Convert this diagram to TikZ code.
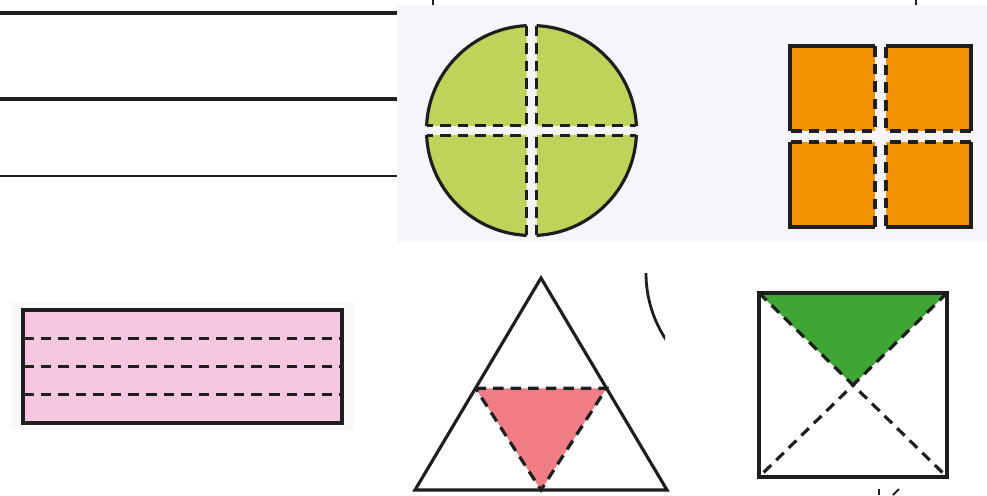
\documentclass[tikz,border=0pt]{standalone}
\usepackage{xcolor}
\usetikzlibrary{calc}
\definecolor{ink}{RGB}{30,30,30}
\definecolor{limec}{RGB}{190,211,90}
\definecolor{orngc}{RGB}{242,146,0}
\definecolor{pinkc}{RGB}{247,198,223}
\definecolor{rosec}{RGB}{240,124,133}
\definecolor{grnc}{RGB}{63,165,53}
\definecolor{panelgray}{RGB}{247,245,249}
\definecolor{panelpink}{RGB}{248,248,248}
\tikzset{
  solidln/.style={draw=ink,line width=1.8pt},
  dashln/.style={draw=ink,line width=1.8pt,dash pattern=on 6pt off 4pt},
  rule/.style={draw=ink,line width=1.8pt},
  part/.style={rectangle,draw=none,inner sep=0pt,outer sep=0pt},
  quad/.style={part,fill=orngc,minimum size=1.7cm},
  tick/.style={draw=ink,line width=1.1pt}
}
\begin{document}
\begin{tikzpicture}[x=0.02cm, y=-0.02cm]
  \useasboundingbox (0,0) rectangle (987,495);
  % Panels
  \fill[panelgray] (397,5) rectangle (987,242);
  \node[part, fill=panelpink, minimum width=6.84cm, minimum height=2.56cm] (pp) at (183,366) {};

  % Ruled lines top left
  \draw[rule] (0,13) -- (397,13);
  \draw[rule] (0,99) -- (397,99);
  \draw[rule, line width=1.3pt] (0,176) -- (397,176);
  \draw[tick] (433,0) -- (433,5);
  \draw[tick] (916,0) -- (916,5);

  % Circle cut in quarters
  \coordinate (cc) at (531.5,130.5);
  \foreach \sx/\sy in {1/1,1/-1,-1/1,-1/-1}{
    \coordinate (k) at ($(cc)+({5*\sx},{-5*\sy})$);
    \begin{scope}
      \clip (k) rectangle ++({130*\sx},{-130*\sy});
      \fill[limec] (cc) circle[radius=105];
      \draw[solidln] (cc) circle[radius=105];
    \end{scope}
    \draw[dashln] ($(cc)+({5*\sx},{-104.9*\sy})$) -- (k) -- ($(cc)+({104.9*\sx},{-5*\sy})$);
  }

  % Square cut in quarters
  \node[quad] (q1) at (832.5,88.5) {};
  \node[quad] (q2) at (928.5,88.5) {};
  \node[quad] (q3) at (832.5,184.5) {};
  \node[quad] (q4) at (928.5,184.5) {};
  \draw[solidln] (q1.south west) -- (q1.north west) -- (q1.north east);
  \draw[dashln] (q1.north east) -- (q1.south east) -- (q1.south west);
  \draw[solidln] (q2.north west) -- (q2.north east) -- (q2.south east);
  \draw[dashln] (q2.south east) -- (q2.south west) -- (q2.north west);
  \draw[solidln] (q3.north west) -- (q3.south west) -- (q3.south east);
  \draw[dashln] (q3.south east) -- (q3.north east) -- (q3.north west);
  \draw[solidln] (q4.south west) -- (q4.south east) -- (q4.north east);
  \draw[dashln] (q4.north east) -- (q4.north west) -- (q4.south west);

  % Pink strip in four
  \node[part, fill=pinkc, minimum width=6.38cm, minimum height=2.26cm] (pr) at (182.5,366.5) {};
  \draw[solidln] (pr.north west) rectangle (pr.south east);
  \foreach \f in {0.25,0.5,0.75}
    \draw[dashln] ($(pr.north west)!\f!(pr.south west)$) -- ($(pr.north east)!\f!(pr.south east)$);

  % Triangle with middle part
  \coordinate (ta) at (541,278);
  \coordinate (tl) at (415,490);
  \coordinate (tr) at (667,490);
  \coordinate (ml) at ($(ta)!0.52!(tl)$);
  \coordinate (mr) at ($(ta)!0.52!(tr)$);
  \coordinate (mb) at ($(tl)!0.5!(tr)$);
  \fill[rosec] (ml) -- (mr) -- (mb) -- cycle;
  \draw[dashln] (ml) -- (mr) -- (mb) -- cycle;
  \draw[solidln] (ta) -- (tl) -- (tr) -- cycle;

  % Arc piece
  \begin{scope}
    \clip (600,273) rectangle (665,350);
    \draw[solidln, line width=1.6pt] (767,273) circle[radius=121];
  \end{scope}

  % Square with diagonals
  \coordinate (s1) at (759,293);
  \coordinate (s2) at (947,293);
  \coordinate (s3) at (947,477);
  \coordinate (s4) at (759,477);
  \coordinate (sc) at ($(s1)!0.5!(s3)$);
  \fill[grnc] (s1) -- (s2) -- (sc) -- cycle;
  \draw[dashln] (s1) -- (s3);
  \draw[dashln] (s2) -- (s4);
  \draw[solidln] (s1) rectangle (s3);
  \draw[tick] (879,489) -- (879,495);
  \draw[tick] (893,495) -- (899,489);
\end{tikzpicture}
\end{document}
